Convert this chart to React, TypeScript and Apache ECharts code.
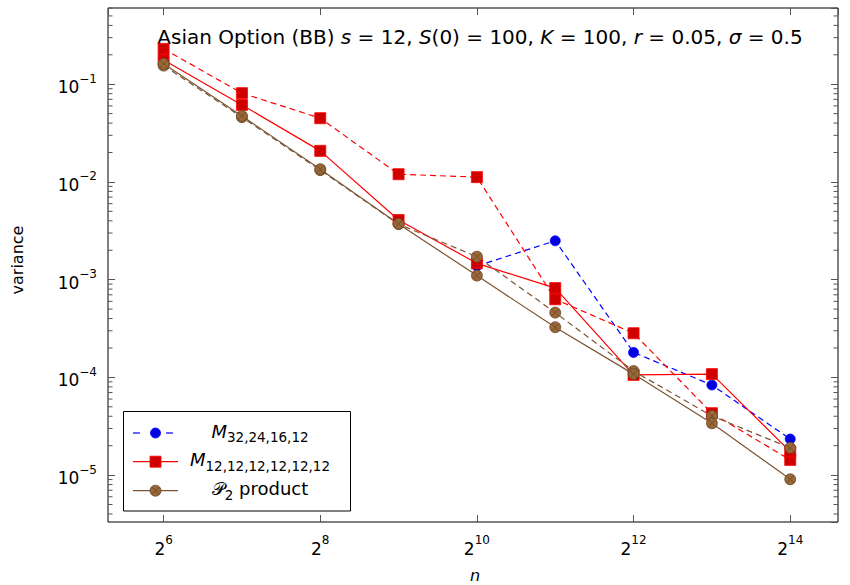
import React, { useEffect, useRef } from 'react';
import * as echarts from 'echarts';

const FONT = 'DejaVu Sans';

// n values (2^6 ... 2^14)
const nValues = [64, 128, 256, 512, 1024, 2048, 4096, 8192, 16384];

// variance values
const blueM32 = [null, null, null, null, 1.38e-3, 2.5e-3, 1.8e-4, 8.35e-5, 2.34e-5];
const redM12 = [0.177, 0.0614, 0.0208, 0.00408, 0.00147, 8.2e-4, 1.06e-4, 1.08e-4, 1.74e-5];
const redM12Dashed = [0.23, 0.081, 0.0449, 0.012, 0.0112, 6.3e-4, 2.83e-4, 4.3e-5, 1.43e-5];
const brownP2 = [0.162, 0.0474, 0.0135, 0.00372, 0.0011, 3.26e-4, 1.08e-4, 3.39e-5, 9.06e-6];
const brownP2Dashed = [0.155, 0.046, 0.0132, 0.0037, 0.00172, 4.6e-4, 1.16e-4, 4.03e-5, 1.9e-5];

// tick labels (exponents)
const xTickExponents = [6, 8, 10, 12, 14];
const yTickExponents = [-5, -4, -3, -2, -1];
const minorMultipliers = [2, 3, 4, 5, 6, 7, 8, 9];
const minorDecades = [-6, -5, -4, -3, -2, -1];

const X_MIN = Math.pow(2, 5.29);
const X_MAX = Math.pow(2, 14.61);
const Y_MIN = Math.pow(10, -5.48);
const Y_MAX = Math.pow(10, -0.22);

const BLUE = '#0000ff';
const BLUE_FILL = '#0000e0';
const RED = '#ff0000';
const RED_FILL = '#d00000';
const BROWN = '#7a5533';
const BROWN_FILL = '#9a6838';
const BROWN_EDGE = '#6a4625';
const TICK = '#555555';

const OTIMES =
  'path://M10,0A10,10,0,1,1,10,20A10,10,0,1,1,10,0ZM2.93,2.93L17.07,17.07M17.07,2.93L2.93,17.07';

const pairs = (vals: (number | null)[]) =>
  nValues
    .map((n, i) => (vals[i] == null ? null : [n, vals[i] as number]))
    .filter((p) => p !== null) as number[][];

const isInt = (e: number) => Math.abs(e - Math.round(e)) < 1e-6;

const supRich = {
  b: { fontSize: 17, fontFamily: FONT, color: '#000', lineHeight: 23, verticalAlign: 'bottom' },
  s: { fontSize: 12, fontFamily: FONT, color: '#000', lineHeight: 12, verticalAlign: 'top' },
};

const legendRich = {
  m: { fontSize: 18, fontFamily: FONT, fontStyle: 'italic', fill: '#000', lineHeight: 22, verticalAlign: 'top' },
  p: { fontSize: 18, fontFamily: FONT, fill: '#000', lineHeight: 22, verticalAlign: 'top' },
  s: { fontSize: 13.5, fontFamily: FONT, fill: '#000', lineHeight: 13, verticalAlign: 'bottom' },
  n: { fontSize: 18, fontFamily: FONT, fill: '#000', lineHeight: 22, verticalAlign: 'top' },
};

export default function App() {
  const ref = useRef<HTMLDivElement>(null);

  useEffect(() => {
    if (!ref.current) return;
    const chart = echarts.init(ref.current, undefined, { renderer: 'svg' });

    const minorData: number[][] = [];
    minorDecades.forEach((d) =>
      minorMultipliers.forEach((m) => {
        const v = m * Math.pow(10, d);
        if (v > Y_MIN && v < Y_MAX) minorData.push([nValues[0], v]);
      })
    );

    const xLabel = (v: number) => {
      const e = Math.log2(v);
      if (!isInt(e) || xTickExponents.indexOf(Math.round(e)) < 0) return '';
      return '{b|2}{s|' + Math.round(e) + '}';
    };
    const yLabel = (v: number) => {
      const e = Math.log10(v);
      if (!isInt(e) || yTickExponents.indexOf(Math.round(e)) < 0) return '';
      return '{b|10}{s|\u2212' + Math.abs(Math.round(e)) + '}';
    };

    const tickStyle = { show: true, inside: true, length: 7, lineStyle: { color: TICK, width: 1 } };

    const lineBase = {
      type: 'line',
      xAxisIndex: 0,
      yAxisIndex: 0,
      silent: true,
      emphasis: { disabled: true },
      symbolSize: 11,
    };

    const option: any = {
      animation: false,
      backgroundColor: '#fff',
      grid: {
        left: 108,
        right: 12,
        top: 8,
        bottom: 63,
        show: true,
        borderColor: '#000',
        borderWidth: 1,
        backgroundColor: 'transparent',
        containLabel: false,
        outerBoundsMode: 'none',
      },
      xAxis: [
        {
          type: 'log',
          logBase: 4,
          min: X_MIN,
          max: X_MAX,
          position: 'bottom',
          axisLine: { show: false },
          axisTick: tickStyle,
          splitLine: { show: false },
          minorTick: { show: false },
          axisLabel: { formatter: xLabel, rich: supRich, margin: 12, showMinLabel: false, showMaxLabel: false },
        },
        {
          type: 'log',
          logBase: 4,
          min: X_MIN,
          max: X_MAX,
          position: 'top',
          axisLine: { show: false },
          axisTick: tickStyle,
          splitLine: { show: false },
          axisLabel: { show: false },
        },
      ],
      yAxis: [
        {
          type: 'log',
          logBase: 10,
          min: Y_MIN,
          max: Y_MAX,
          position: 'left',
          axisLine: { show: false },
          axisTick: tickStyle,
          splitLine: { show: false },
          axisLabel: { formatter: yLabel, rich: supRich, margin: 11, showMinLabel: false, showMaxLabel: false },
        },
        {
          type: 'log',
          logBase: 10,
          min: Y_MIN,
          max: Y_MAX,
          position: 'right',
          axisLine: { show: false },
          axisTick: tickStyle,
          splitLine: { show: false },
          axisLabel: { show: false },
        },
      ],
      series: [
        {
          type: 'custom',
          name: 'minor ticks',
          silent: true,
          clip: false,
          xAxisIndex: 0,
          yAxisIndex: 0,
          data: minorData,
          encode: { x: 0, y: 1 },
          renderItem: (params: any, api: any) => {
            const y = api.coord([api.value(0), api.value(1)])[1];
            const cs = params.coordSys;
            return {
              type: 'group',
              children: [
                { type: 'line', shape: { x1: cs.x, y1: y, x2: cs.x + 4.5, y2: y }, style: { stroke: TICK, lineWidth: 1 } },
                {
                  type: 'line',
                  shape: { x1: cs.x + cs.width - 4.5, y1: y, x2: cs.x + cs.width, y2: y },
                  style: { stroke: TICK, lineWidth: 1 },
                },
              ],
            };
          },
        },
        {
          ...lineBase,
          name: 'M32,24,16,12',
          data: pairs(blueM32),
          symbol: 'circle',
          symbolSize: 10,
          lineStyle: { color: BLUE, width: 1.2, type: [6, 4] },
          itemStyle: { color: BLUE_FILL, borderColor: BLUE, borderWidth: 0.8 },
        },
        {
          ...lineBase,
          name: 'M12 dashed',
          data: pairs(redM12Dashed),
          symbol: 'rect',
          lineStyle: { color: RED, width: 1.2, type: [6, 4] },
          itemStyle: { color: RED_FILL, borderColor: RED, borderWidth: 0.8 },
        },
        {
          ...lineBase,
          name: 'M12,12,12,12,12,12',
          data: pairs(redM12),
          symbol: 'rect',
          lineStyle: { color: RED, width: 1.2, type: 'solid' },
          itemStyle: { color: RED_FILL, borderColor: RED, borderWidth: 0.8 },
        },
        {
          ...lineBase,
          name: 'P2 dashed',
          data: pairs(brownP2Dashed),
          symbol: OTIMES,
          lineStyle: { color: BROWN, width: 1.2, type: [6, 4] },
          itemStyle: { color: BROWN_FILL, borderColor: BROWN_EDGE, borderWidth: 0.8 },
        },
        {
          ...lineBase,
          name: 'P2 product',
          data: pairs(brownP2),
          symbol: OTIMES,
          lineStyle: { color: BROWN, width: 1.2, type: 'solid' },
          itemStyle: { color: BROWN_FILL, borderColor: BROWN_EDGE, borderWidth: 0.8 },
        },
      ],
      graphic: [
        {
          type: 'text',
          x: 480,
          y: 37,
          silent: true,
          style: {
            text:
              '{n|Asian Option (BB) }{i|s}{n| = 12, }{i|S}{n|(0) = 100, }{i|K}{n| = 100, }{i|r}{n| = 0.05, }{i|\u03c3}{n| = 0.5}',
            align: 'center',
            verticalAlign: 'middle',
            rich: {
              n: { fontSize: 20, fontFamily: FONT, fill: '#000' },
              i: { fontSize: 20, fontFamily: FONT, fontStyle: 'italic', fill: '#000' },
            },
          },
        },
        {
          type: 'text',
          x: 17,
          y: 260,
          rotation: Math.PI / 2,
          silent: true,
          style: { text: 'variance', fontSize: 16, fontFamily: FONT, fill: '#000', align: 'center', verticalAlign: 'middle' },
        },
        {
          type: 'text',
          x: 475,
          y: 575,
          silent: true,
          style: { text: 'n', fontSize: 16, fontFamily: FONT, fontStyle: 'italic', fill: '#000', align: 'center', verticalAlign: 'middle' },
        },
        {
          type: 'group',
          silent: true,
          children: [
            { type: 'rect', shape: { x: 123.5, y: 411.5, width: 227, height: 99.5 }, style: { fill: '#fff', stroke: '#000', lineWidth: 1 } },
            // row 1
            { type: 'line', shape: { x1: 133, y1: 433, x2: 140, y2: 433 }, style: { stroke: BLUE, lineWidth: 1.2 } },
            { type: 'line', shape: { x1: 166, y1: 433, x2: 173, y2: 433 }, style: { stroke: BLUE, lineWidth: 1.2 } },
            { type: 'circle', shape: { cx: 155.5, cy: 433, r: 5 }, style: { fill: BLUE_FILL, stroke: BLUE, lineWidth: 0.8 } },
            {
              type: 'text',
              x: 260,
              y: 433,
              style: { text: '{m|M}{s|32,24,16,12}', align: 'center', verticalAlign: 'middle', rich: legendRich },
            },
            // row 2
            { type: 'line', shape: { x1: 133, y1: 461.7, x2: 178, y2: 461.7 }, style: { stroke: RED, lineWidth: 1.2 } },
            { type: 'rect', shape: { x: 150, y: 456.2, width: 11, height: 11 }, style: { fill: RED_FILL, stroke: RED, lineWidth: 0.8 } },
            {
              type: 'text',
              x: 260,
              y: 461.7,
              style: { text: '{m|M}{s|12,12,12,12,12,12}', align: 'center', verticalAlign: 'middle', rich: legendRich },
            },
            // row 3
            { type: 'line', shape: { x1: 133, y1: 490.7, x2: 178, y2: 490.7 }, style: { stroke: BROWN, lineWidth: 1.2 } },
            { type: 'circle', shape: { cx: 155.5, cy: 490.7, r: 5.5 }, style: { fill: BROWN_FILL, stroke: BROWN_EDGE, lineWidth: 0.8 } },
            { type: 'line', shape: { x1: 151.6, y1: 486.8, x2: 159.4, y2: 494.6 }, style: { stroke: BROWN_EDGE, lineWidth: 0.8 } },
            { type: 'line', shape: { x1: 159.4, y1: 486.8, x2: 151.6, y2: 494.6 }, style: { stroke: BROWN_EDGE, lineWidth: 0.8 } },
            {
              type: 'text',
              x: 260,
              y: 490.7,
              style: { text: '{p|\ud835\udcab}{s|2}{n| product}', align: 'center', verticalAlign: 'middle', rich: legendRich },
            },
          ],
        },
      ],
    };

    chart.setOption(option);
    return () => chart.dispose();
  }, []);

  return <div ref={ref} style={{ width: 850, height: 585, position: 'absolute', left: 0, top: 0 }} />;
}
